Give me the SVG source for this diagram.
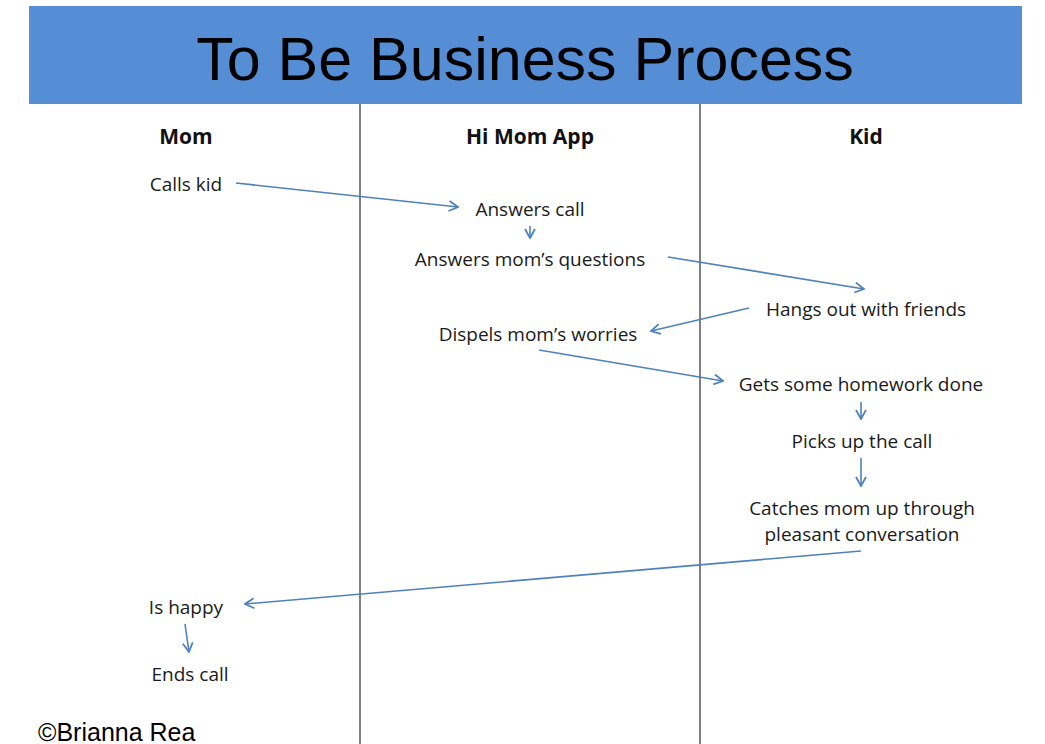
<svg xmlns="http://www.w3.org/2000/svg" width="1045" height="744" viewBox="0 0 1045 744">
<style>
.t{font-family:"Open Sans","Noto Sans",sans-serif;font-size:19px;fill:#1a1a1a;text-anchor:middle}
.h{font-family:"Open Sans","Noto Sans",sans-serif;font-size:21px;font-weight:bold;fill:#111;text-anchor:middle}
.c{stroke:#4F81BD;stroke-width:1.6;fill:none;marker-end:url(#ah)}
.lane{stroke:#808080;stroke-width:2}
</style>
<defs>
<marker id="ah" viewBox="0 0 12 12" refX="11" refY="6" markerWidth="12" markerHeight="12" markerUnits="userSpaceOnUse" orient="auto">
<path d="M2,1 L11,6 L2,11" fill="none" stroke="#4F81BD" stroke-width="1.8"/>
</marker>
</defs>
<rect width="1045" height="744" fill="#fff"/>
<g id="header">
<rect x="29" y="6" width="993" height="98" fill="#558ED5"/>
<text x="525" y="80" font-family="Liberation Sans, Arial, sans-serif" font-size="61" text-anchor="middle" fill="#000">To Be Business Process</text>
</g>
<g id="lanes">
<line class="lane" x1="360" y1="104" x2="360" y2="744"/>
<line class="lane" x1="700" y1="104" x2="700" y2="744"/>
<text class="h" x="186" y="144">Mom</text>
<text class="h" x="530" y="144">Hi Mom App</text>
<text class="h" x="866" y="144">Kid</text>
</g>
<g id="connectors">
<line class="c" x1="236" y1="183" x2="458" y2="207"/>
<line class="c" x1="530" y1="226" x2="530" y2="238"/>
<line class="c" x1="668" y1="257" x2="864" y2="289"/>
<line class="c" x1="749" y1="308" x2="651" y2="331"/>
<line class="c" x1="539" y1="350" x2="723" y2="381"/>
<line class="c" x1="861" y1="402" x2="861" y2="419"/>
<line class="c" x1="861" y1="458" x2="861" y2="486"/>
<line class="c" x1="861" y1="551" x2="245" y2="604"/>
<line class="c" x1="185" y1="624" x2="189" y2="652"/>
</g>
<g id="n-calls-kid"><text class="t" x="186" y="191">Calls kid</text></g>
<g id="n-answers-call"><text class="t" x="530" y="216">Answers call</text></g>
<g id="n-answers-questions"><text class="t" x="530" y="266">Answers mom’s questions</text></g>
<g id="n-hangs-out"><text class="t" x="866" y="316">Hangs out with friends</text></g>
<g id="n-dispels"><text class="t" x="538" y="341">Dispels mom’s worries</text></g>
<g id="n-homework"><text class="t" x="861" y="391">Gets some homework done</text></g>
<g id="n-picks-up"><text class="t" x="862" y="448">Picks up the call</text></g>
<g id="n-catches-up"><text class="t" x="862" y="515">Catches mom up through</text><text class="t" x="862" y="541">pleasant conversation</text></g>
<g id="n-is-happy"><text class="t" x="186" y="614">Is happy</text></g>
<g id="n-ends-call"><text class="t" x="190" y="681">Ends call</text></g>
<text x="38" y="741" font-family="Liberation Sans, Arial, sans-serif" font-size="25" fill="#000">©Brianna Rea</text>
</svg>
